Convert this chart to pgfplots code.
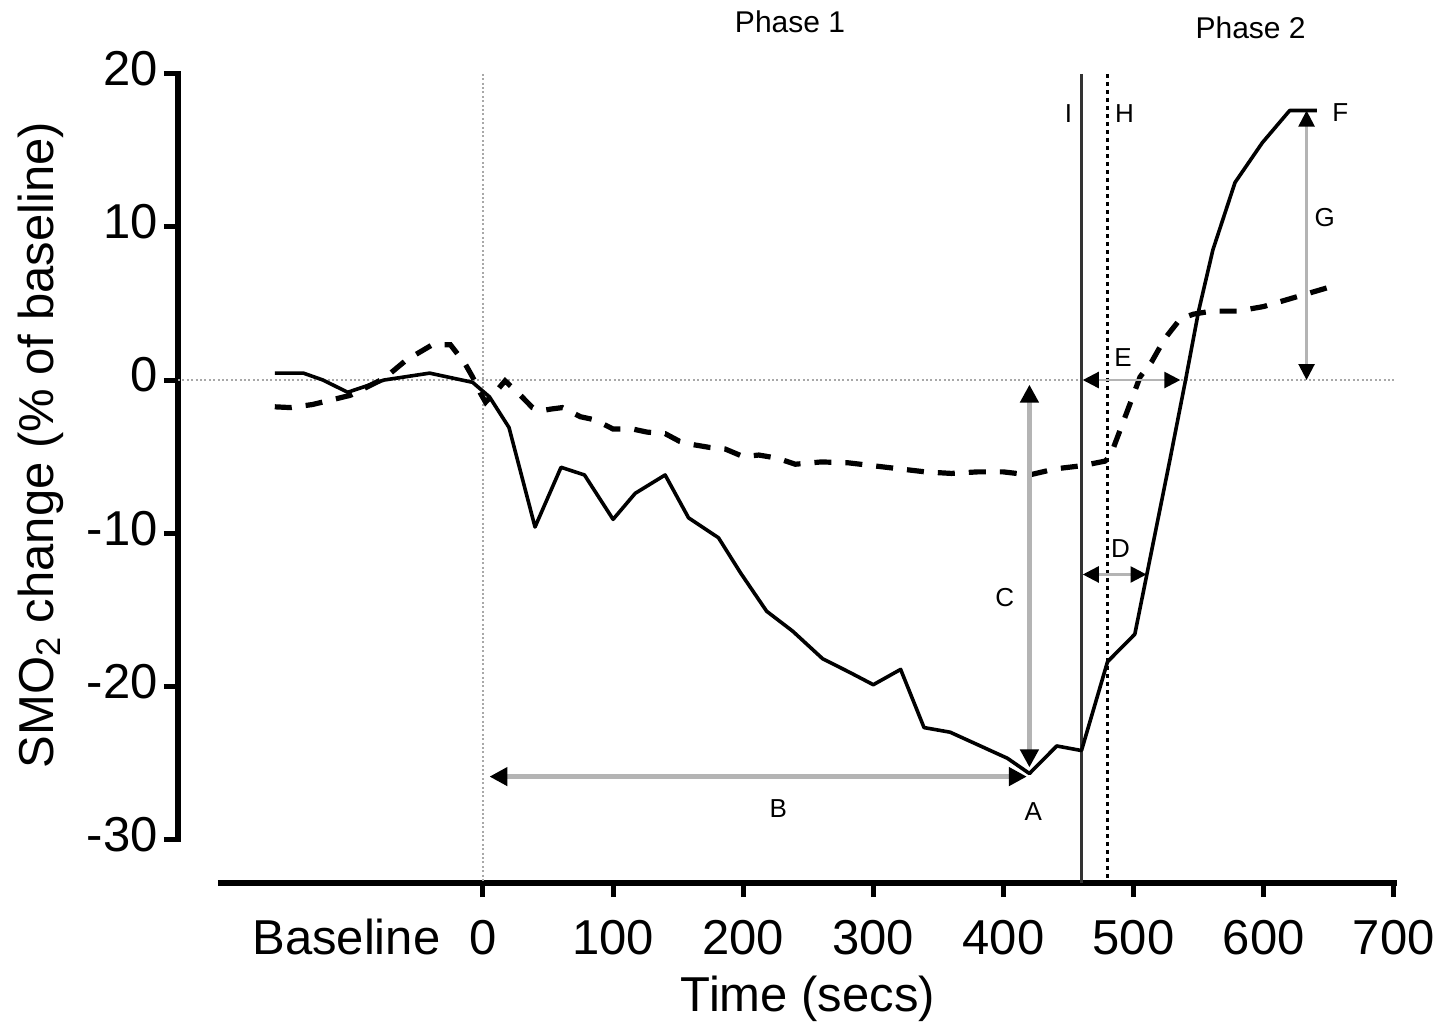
\documentclass[border=0pt]{standalone}
\usepackage{fontspec}
\setmainfont{Liberation Sans}
\usepackage{pgfplots}
\pgfplotsset{compat=1.18}
\usetikzlibrary{arrows.meta}
\definecolor{annot}{HTML}{B4B4B4}
\definecolor{refl}{HTML}{A8A8A8}
\definecolor{iline}{HTML}{333333}
\newcommand{\bigf}{\fontsize{24.5}{29}\selectfont}
\newcommand{\smallf}{\fontsize{13}{15}\selectfont}
\tikzset{
  tipC/.style={{Triangle[length=9pt,width=9pt,color=black]}-{Triangle[length=9pt,width=9pt,color=black]}},
  tipT/.style={{Triangle[length=8pt,width=8pt,color=black]}-{Triangle[length=8pt,width=8pt,color=black]}}
}
\begin{document}
\begin{tikzpicture}
\useasboundingbox (-89pt,-73pt) rectangle (633.5pt,441.5pt);
\begin{axis}[
  scale only axis, width=609.5pt, height=404.6pt,
  xmin=-234.4, xmax=702.5, ymin=-32.85, ymax=20,
  axis lines*=left, axis line style={draw=none},
  clip=false,
  xtick={0,100,200,300,400,500,600,700},
  xticklabels={0,100,200,300,400,500,600,700},
  extra x ticks={-105}, extra x tick labels={Baseline},
  extra x tick style={major tick style={draw=none}},
  ytick={-30,-20,-10,0,10,20},
  yticklabels={-30,-20,-10,0,10,20},
  tick align=outside, major tick length=7pt,
  tick style={black, line width=2.5pt},
  tick label style={font=\bigf, inner sep=0pt},
  xticklabel style={anchor=base, yshift=-28.5pt},
  yticklabel style={anchor=east, xshift=-3pt, yshift=2.5pt},
  xlabel={Time (secs)},
  ylabel={SMO\textsubscript{2} change (\% of baseline)},
  label style={font=\bigf},
  xlabel style={at={(axis description cs:0.5168,-0.1594)}, anchor=base},
  ylabel style={at={(axis description cs:-0.1025,0.541)}, anchor=base},
]
% axis lines
\draw[line width=3.2pt, shorten <=-1.25pt, shorten >=-1.25pt] (axis cs:-234.4,-30) -- (axis cs:-234.4,20);
\draw[line width=3.2pt] (axis cs:-203.7,-32.85) -- (axis cs:702.5,-32.85);
% reference lines
\draw[refl, line width=1pt, dash pattern=on 1pt off 1.2pt] (axis cs:-234.4,0) -- (axis cs:700,0);
\draw[refl, line width=1pt, dash pattern=on 1pt off 1.2pt] (axis cs:0,20) -- (axis cs:0,-32.85);
\draw[iline, line width=1.5pt] (axis cs:460,20) -- (axis cs:460,-32.85);
\draw[black, line width=1.4pt, dash pattern=on 2pt off 2pt] (axis cs:480,20) -- (axis cs:480,-32.85);

% solid series
\addplot[black, line width=1.8pt, line join=round, mark=none] coordinates {
(-160,0.45) (-138,0.45) (-123,0.0) (-104,-0.8) (-76,0.0) (-41,0.45) (-8,-0.15)
(5,-1.1) (20,-3.1) (40,-9.6) (60,-5.7) (78,-6.2) (100,-9.1) (117,-7.4) (140,-6.2)
(158,-9.0) (181,-10.3) (198,-12.6) (218,-15.1) (238,-16.4) (261,-18.2) (282,-19.1)
(300,-19.9) (321,-18.9) (339,-22.7) (359,-23.0) (403,-24.7) (420,-25.7) (441,-23.9)
(460,-24.2) (480,-18.4) (501,-16.6) (510,-12.8) (528,-5.2) (540,0.0) (550,4.5)
(561,8.5) (578,12.9) (599,15.5) (620,17.6) (641,17.6)
};
% dashed series
\addplot[black, line width=2.6pt, dash pattern=on 8.5pt off 7pt, mark=none] coordinates {
(-160,-1.75) (-148,-1.8) (-131,-1.6) (-102,-1.0) (-76,0.1) (-59,1.3) (-39,2.3)
(-25,2.3) (-14,1.1) (-8,0.2) (-2,-0.85) (2,-1.45) (11,-0.65) (17,-0.05) (30,-1.1)
(38,-1.8) (45,-2.0) (52,-1.9) (61,-1.8) (75,-2.4) (86,-2.6) (100,-3.2) (115,-3.2)
(126,-3.4) (140,-3.5) (151,-4.0) (160,-4.2) (174,-4.4) (186,-4.5) (200,-5.0)
(212,-4.9) (226,-5.1) (240,-5.5) (260,-5.35) (280,-5.4) (300,-5.6) (320,-5.8)
(340,-6.0) (360,-6.1) (380,-6.0) (400,-6.0) (420,-6.2) (440,-5.8) (460,-5.6)
(478,-5.3) (482,-5.0) (490,-3.2) (498,-1.4) (505,0.2) (514,1.2) (524,2.7)
(536,4.0) (546,4.3) (560,4.5) (580,4.5) (600,4.8) (620,5.3) (640,5.8) (652,6.1)
};

% annotations
\draw[annot, line width=2.5pt, tipC] (axis cs:5,-25.9) -- (axis cs:418,-25.9);
\draw[annot, line width=2.5pt, tipC] (axis cs:420,-0.3) -- (axis cs:420,-25.3);
\draw[annot, line width=1.2pt, tipT] (axis cs:461,-12.7) -- (axis cs:510,-12.7);
\draw[annot, line width=1.2pt, tipT] (axis cs:461,0) -- (axis cs:536,0);
\draw[annot, line width=1.2pt, tipT] (axis cs:633,0) -- (axis cs:633,17.6);
\draw[black, line width=1.8pt] (axis cs:620,17.6) -- (axis cs:641,17.6);

\node[font=\smallf] at (axis cs:227,-28.0) {B};
\node[font=\smallf] at (axis cs:423,-28.2) {A};
\node[font=\smallf] at (axis cs:401,-14.2) {C};
\node[font=\smallf] at (axis cs:490,-11.0) {D};
\node[font=\smallf] at (axis cs:492,1.45) {E};
\node[font=\smallf] at (axis cs:659,17.5) {F};
\node[font=\smallf] at (axis cs:647,10.6) {G};
\node[font=\smallf] at (axis cs:493,17.4) {H};
\node[font=\smallf] at (axis cs:450,17.4) {I};
\node[font=\fontsize{15}{18}\selectfont] at (axis cs:236,23.4) {Phase 1};
\node[font=\fontsize{15}{18}\selectfont] at (axis cs:590,23.0) {Phase 2};
\end{axis}
\end{tikzpicture}
\end{document}
